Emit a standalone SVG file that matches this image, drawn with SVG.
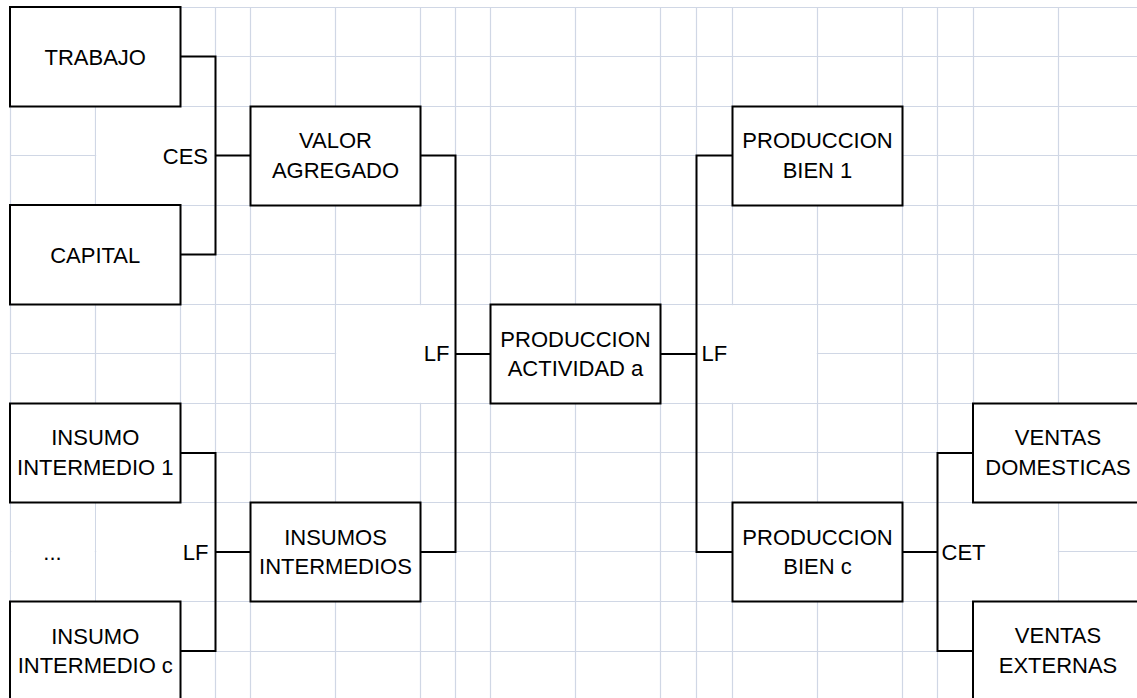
<svg xmlns="http://www.w3.org/2000/svg" width="1137" height="698" viewBox="0 0 1137 698">
  <style>
    .grid line { stroke: #D0D7E5; stroke-width: 1.2; }
    .cell { fill: #ffffff; stroke: none; }
    .box { fill: #ffffff; stroke: #000000; stroke-width: 2; }
    .conn { fill: none; stroke: #000000; stroke-width: 2; }
    text { font-family: "Liberation Sans", Arial, sans-serif; font-size: 22px; fill: #000000; }
    .c { text-anchor: middle; }
    .e { text-anchor: end; }
    .s { text-anchor: start; }
  </style>
  <rect x="0" y="0" width="1137" height="698" fill="#ffffff"/>
  <g id="grid" class="grid">
    <line x1="10.5" y1="7" x2="10.5" y2="698"/>
    <line x1="95.5" y1="7" x2="95.5" y2="698"/>
    <line x1="180.5" y1="7" x2="180.5" y2="698"/>
    <line x1="215.5" y1="7" x2="215.5" y2="698"/>
    <line x1="250.5" y1="7" x2="250.5" y2="698"/>
    <line x1="335.5" y1="7" x2="335.5" y2="698"/>
    <line x1="420.5" y1="7" x2="420.5" y2="698"/>
    <line x1="455.5" y1="7" x2="455.5" y2="698"/>
    <line x1="490.5" y1="7" x2="490.5" y2="698"/>
    <line x1="575.5" y1="7" x2="575.5" y2="698"/>
    <line x1="660.5" y1="7" x2="660.5" y2="698"/>
    <line x1="696.5" y1="7" x2="696.5" y2="698"/>
    <line x1="732.5" y1="7" x2="732.5" y2="698"/>
    <line x1="817.5" y1="7" x2="817.5" y2="698"/>
    <line x1="902.5" y1="7" x2="902.5" y2="698"/>
    <line x1="937.5" y1="7" x2="937.5" y2="698"/>
    <line x1="973.5" y1="7" x2="973.5" y2="698"/>
    <line x1="1058.5" y1="7" x2="1058.5" y2="698"/>
    <line x1="10" y1="7.5" x2="1137" y2="7.5"/>
    <line x1="10" y1="56.5" x2="1137" y2="56.5"/>
    <line x1="10" y1="106.5" x2="1137" y2="106.5"/>
    <line x1="10" y1="155.5" x2="1137" y2="155.5"/>
    <line x1="10" y1="205.5" x2="1137" y2="205.5"/>
    <line x1="10" y1="254.5" x2="1137" y2="254.5"/>
    <line x1="10" y1="304.5" x2="1137" y2="304.5"/>
    <line x1="10" y1="353.5" x2="1137" y2="353.5"/>
    <line x1="10" y1="403.5" x2="1137" y2="403.5"/>
    <line x1="10" y1="452.5" x2="1137" y2="452.5"/>
    <line x1="10" y1="502.5" x2="1137" y2="502.5"/>
    <line x1="10" y1="551.5" x2="1137" y2="551.5"/>
    <line x1="10" y1="601.5" x2="1137" y2="601.5"/>
    <line x1="10" y1="651.5" x2="1137" y2="651.5"/>
  </g>
  <g id="merged-cells">
    <rect class="cell" x="96.2" y="107.2" width="118.6" height="97.6"/>
    <rect class="cell" x="336.2" y="305.2" width="118.6" height="97.6"/>
    <rect class="cell" x="697.2" y="305.2" width="119.6" height="97.6"/>
    <rect class="cell" x="11.2" y="503.2" width="83.6" height="97.6"/>
    <rect class="cell" x="96.2" y="503.2" width="118.6" height="97.6"/>
    <rect class="cell" x="938.2" y="503.2" width="119.6" height="97.6"/>
  </g>
  <g id="connectors">
    <polyline class="conn" points="180.5,56.5 215.5,56.5 215.5,254.5 180.5,254.5"/>
    <line class="conn" x1="215.5" y1="155.5" x2="250.5" y2="155.5"/>
    <polyline class="conn" points="420.5,155.5 455.5,155.5 455.5,552 420.5,552"/>
    <line class="conn" x1="455.5" y1="354" x2="490.5" y2="354"/>
    <line class="conn" x1="660.5" y1="354" x2="696.5" y2="354"/>
    <polyline class="conn" points="732.5,155.5 696.5,155.5 696.5,552 732.5,552"/>
    <polyline class="conn" points="180.5,453 215.5,453 215.5,651 180.5,651"/>
    <line class="conn" x1="215.5" y1="552" x2="250.5" y2="552"/>
    <line class="conn" x1="902.5" y1="552" x2="937.5" y2="552"/>
    <polyline class="conn" points="973,453 937.5,453 937.5,651 973,651"/>
    <text class="e" x="208" y="163.5">CES</text>
    <text class="e" x="449.5" y="361">LF</text>
    <text class="s" x="701.5" y="361">LF</text>
    <text class="e" x="208.5" y="560">LF</text>
    <text class="s" x="941.5" y="559.5">CET</text>
    <text class="c" x="52.5" y="560">...</text>
  </g>
  <g id="trabajo">
    <rect class="box" x="10" y="7" width="170.5" height="99.5"/>
    <text class="c" x="95.25" y="65">TRABAJO</text>
  </g>
  <g id="capital">
    <rect class="box" x="10" y="205" width="170.5" height="99.5"/>
    <text class="c" x="95.25" y="263">CAPITAL</text>
  </g>
  <g id="valor-agregado">
    <rect class="box" x="250.5" y="106.5" width="170" height="99"/>
    <text class="c" x="335.5" y="148">VALOR</text>
    <text class="c" x="335.5" y="178">AGREGADO</text>
  </g>
  <g id="produccion-actividad">
    <rect class="box" x="490.5" y="304.5" width="170" height="99"/>
    <text class="c" x="575.5" y="346.5">PRODUCCION</text>
    <text class="c" x="575.5" y="376">ACTIVIDAD a</text>
  </g>
  <g id="produccion-bien-1">
    <rect class="box" x="732.5" y="106.5" width="170" height="99"/>
    <text class="c" x="817.5" y="148">PRODUCCION</text>
    <text class="c" x="817.5" y="178">BIEN 1</text>
  </g>
  <g id="produccion-bien-c">
    <rect class="box" x="732.5" y="502.5" width="170" height="99"/>
    <text class="c" x="817.5" y="544.5">PRODUCCION</text>
    <text class="c" x="817.5" y="574">BIEN c</text>
  </g>
  <g id="insumo-intermedio-1">
    <rect class="box" x="10" y="403.5" width="170.5" height="99"/>
    <text class="c" x="95.25" y="445">INSUMO</text>
    <text class="c" x="95.25" y="475">INTERMEDIO 1</text>
  </g>
  <g id="insumo-intermedio-c">
    <rect class="box" x="10" y="601.5" width="170.5" height="99"/>
    <text class="c" x="95.25" y="643.5">INSUMO</text>
    <text class="c" x="95.25" y="673">INTERMEDIO c</text>
  </g>
  <g id="insumos-intermedios">
    <rect class="box" x="250.5" y="502.5" width="170" height="99"/>
    <text class="c" x="335.5" y="544.5">INSUMOS</text>
    <text class="c" x="335.5" y="574">INTERMEDIOS</text>
  </g>
  <g id="ventas-domesticas">
    <rect class="box" x="973" y="403.5" width="170" height="99"/>
    <text class="c" x="1058" y="445">VENTAS</text>
    <text class="c" x="1058" y="474.5">DOMESTICAS</text>
  </g>
  <g id="ventas-externas">
    <rect class="box" x="973" y="601.5" width="170" height="99"/>
    <text class="c" x="1058" y="642.5">VENTAS</text>
    <text class="c" x="1058" y="672.5">EXTERNAS</text>
  </g>
</svg>
